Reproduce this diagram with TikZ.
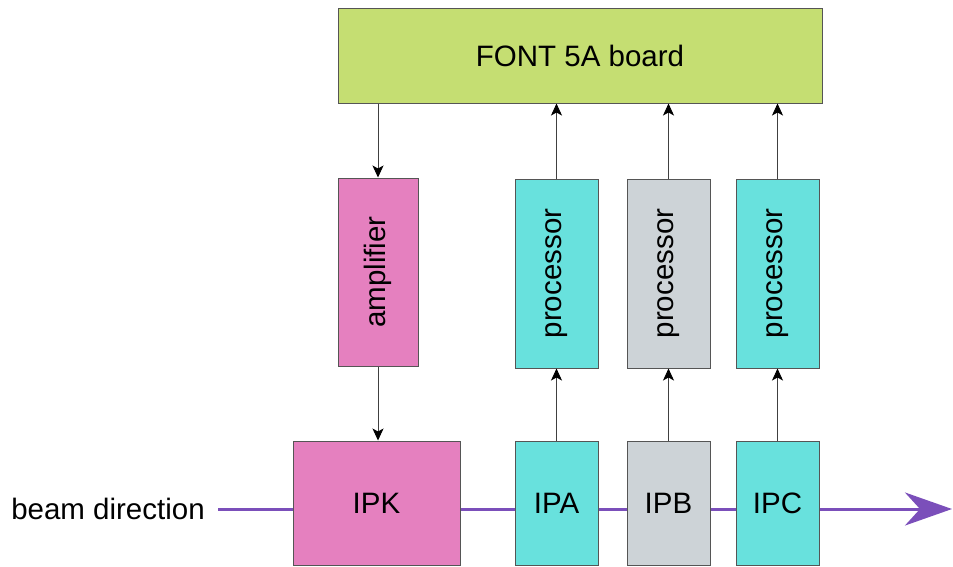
\documentclass[tikz,border=0pt]{standalone}
\usepackage{fontspec}
\setmainfont{Liberation Sans}
\usetikzlibrary{arrows.meta}
\definecolor{boardgreen}{HTML}{C5DE72}
\definecolor{kickpink}{HTML}{E580BF}
\definecolor{bpmcyan}{HTML}{68E1DD}
\definecolor{bpmgray}{HTML}{CDD3D7}
\definecolor{beampurple}{HTML}{7B4FBA}
\definecolor{edgegray}{HTML}{555555}
\begin{document}
\begin{tikzpicture}[x=1pt,y=-1pt,
  box/.style={draw=edgegray, line width=1pt, inner sep=0pt,
    font=\fontsize{29.5}{34}\selectfont},
  conn/.style={draw=black!75, line width=0.9pt,
    -{Stealth[length=12pt,width=11pt,inset=3pt,color=black]}},
  beam/.style={draw=beampurple, line width=3pt}]
\useasboundingbox (0,0) rectangle (953,566);

% control board
\node[box, fill=boardgreen, minimum width=484pt, minimum height=95pt] (board) at (580,55.5) {FONT 5A board};

% kicker chain
\node[box, fill=kickpink, minimum width=80pt, minimum height=188pt] (amp) at (378,272)
  {\rotatebox{90}{amplifier}};
\node[box, fill=kickpink, minimum width=167pt, minimum height=124pt] (ipk) at (376.5,503) {IPK};

% processors
\node[box, fill=bpmcyan, minimum width=83pt, minimum height=189pt] (pa) at (556.5,273.5)
  {\rotatebox{90}{processor}};
\node[box, fill=bpmgray, minimum width=83pt, minimum height=189pt] (pb) at (668.5,273.5)
  {\rotatebox{90}{processor}};
\node[box, fill=bpmcyan, minimum width=83pt, minimum height=189pt] (pc) at (777.5,273.5)
  {\rotatebox{90}{processor}};

% beam position monitors
\node[box, fill=bpmcyan, minimum width=83pt, minimum height=124pt] (ipa) at (556.5,503) {IPA};
\node[box, fill=bpmgray, minimum width=83pt, minimum height=124pt] (ipb) at (668.5,503) {IPB};
\node[box, fill=bpmcyan, minimum width=83pt, minimum height=124pt] (ipc) at (777.5,503) {IPC};

% beam line
\node[font=\fontsize{29.5}{34}\selectfont, inner sep=0pt] (beamtxt) at (108,509) {beam direction};
\coordinate (bstart) at (218,509);
\coordinate (bend) at (952,509);
\draw[beam] (bstart) -- (bstart -| ipk.west);
\draw[beam] (ipk.east |- bstart) -- (ipa.west |- bstart);
\draw[beam] (ipa.east |- bstart) -- (ipb.west |- bstart);
\draw[beam] (ipb.east |- bstart) -- (ipc.west |- bstart);
\draw[beam, -{Stealth[length=47pt,width=33pt,inset=15pt]}] (ipc.east |- bstart) -- (bend);

% signal connections
\draw[conn] (amp.north |- board.south) -- (amp.north);
\draw[conn] (amp.south) -- (amp.south |- ipk.north);
\draw[conn] (ipa.north) -- (pa.south);
\draw[conn] (ipb.north) -- (pb.south);
\draw[conn] (ipc.north) -- (pc.south);
\draw[conn] (pa.north) -- (pa.north |- board.south);
\draw[conn] (pb.north) -- (pb.north |- board.south);
\draw[conn] (pc.north) -- (pc.north |- board.south);
\end{tikzpicture}
\end{document}
